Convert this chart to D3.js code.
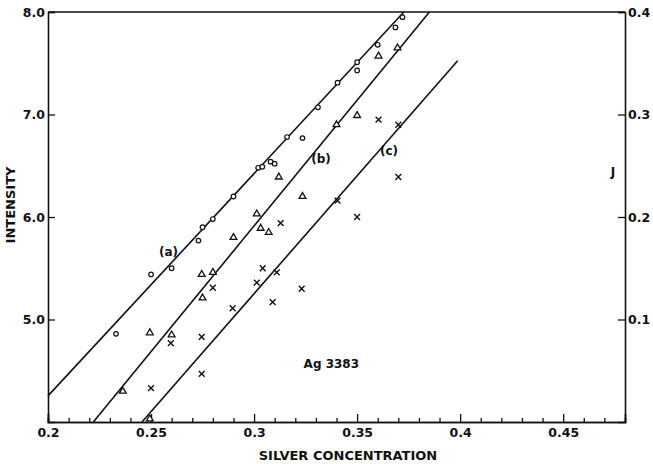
<!DOCTYPE html>
<html>
<head>
<meta charset="utf-8">
<script src="https://cdn.jsdelivr.net/npm/d3@7"></script>
<style>
  body { margin: 0; background: #fff; }
  svg text { font-family: "DejaVu Sans", sans-serif; font-weight: bold; fill: #111; }
</style>
</head>
<body>
<div id="app"></div>
<script>
// silver concentration vs intensity, three series
const circlesX = [0.233, 0.250, 0.260, 0.273, 0.275, 0.280, 0.290, 0.302, 0.304, 0.308, 0.310, 0.316, 0.3235, 0.331, 0.3405, 0.350, 0.350, 0.360, 0.3686, 0.372];
const circlesY = [4.86, 5.44, 5.50, 5.77, 5.90, 5.98, 6.20, 6.48, 6.49, 6.54, 6.52, 6.78, 6.77, 7.07, 7.31, 7.51, 7.43, 7.68, 7.85, 7.95];

const trianglesX = [0.2363, 0.2494, 0.260, 0.2494, 0.2746, 0.280, 0.275, 0.290, 0.3013, 0.3032, 0.3071, 0.312, 0.3235, 0.340, 0.350, 0.3604, 0.3696];
const trianglesY = [4.30, 4.87, 4.85, 4.03, 5.44, 5.46, 5.21, 5.80, 6.03, 5.89, 5.85, 6.39, 6.20, 6.90, 6.99, 7.57, 7.65];

const crossesX = [0.250, 0.2596, 0.2746, 0.2746, 0.280, 0.2896, 0.3013, 0.3042, 0.309, 0.311, 0.3129, 0.3231, 0.3405, 0.350, 0.3604, 0.370, 0.370];
const crossesY = [4.33, 4.77, 4.83, 4.47, 5.31, 5.11, 5.36, 5.50, 5.17, 5.46, 5.94, 5.30, 6.16, 6.00, 6.95, 6.90, 6.39];

// fitted straight lines (start, end)
const lineA = [[0.2, 4.255], [0.3727, 8.0]];
const lineB = [[0.222, 4.0], [0.3851, 8.0]];
const lineC = [[0.2456, 4.0], [0.3988, 7.525]];

const xMajorTicks = [0.2, 0.25, 0.3, 0.35, 0.4, 0.45];
const xTickLabels = ["0.2", "0.25", "0.3", "0.35", "0.4", "0.45"];
const xMinorTicks = [0.21, 0.22, 0.23, 0.24, 0.26, 0.27, 0.28, 0.29, 0.31, 0.32, 0.33, 0.34, 0.36, 0.37, 0.38, 0.39, 0.41, 0.42, 0.43, 0.44, 0.46, 0.47];
const yTicks = [5, 6, 7, 8];
const yTickLabels = ["5.0", "6.0", "7.0", "8.0"];
const jTicks = [0.1, 0.2, 0.3, 0.4];
const jTickLabels = ["0.1", "0.2", "0.3", "0.4"];

const width = 653, height = 464;
const margin = { top: 12, right: 28, bottom: 42, left: 48 };
const innerW = width - margin.left - margin.right;
const innerH = height - margin.top - margin.bottom;

const svg = d3.select('#app').append('svg')
    .attr('width', width).attr('height', height);
const g = svg.append('g')
    .attr('transform', `translate(${margin.left},${margin.top})`);

const x = d3.scaleLinear().domain([0.2, 0.48]).range([0, innerW]);
const y = d3.scaleLinear().domain([4, 8]).range([innerH, 0]);
const j = d3.scaleLinear().domain([0, 0.4]).range([innerH, 0]);

// frame top line
g.append('line').attr('x1', 0).attr('x2', innerW).attr('y1', 0).attr('y2', 0)
    .attr('stroke', '#111').attr('stroke-width', 1.6);

const styleAxis = sel => {
    sel.select('.domain').attr('stroke', '#111').attr('stroke-width', 1.6);
    sel.selectAll('.tick line').attr('stroke', '#111').attr('stroke-width', 1.3);
    sel.selectAll('text').attr('font-size', 12.5).attr('font-family', null);
};

g.append('g').attr('transform', `translate(0,${innerH})`)
    .call(d3.axisBottom(x).tickValues(xMinorTicks).tickSize(-4).tickFormat(''))
    .call(styleAxis);
g.append('g').attr('transform', `translate(0,${innerH})`)
    .call(d3.axisBottom(x).tickValues(xMajorTicks).tickSize(-8).tickPadding(6)
        .tickFormat((d, i) => xTickLabels[i]))
    .call(styleAxis);

g.append('g')
    .call(d3.axisLeft(y).tickValues(yTicks).tickSize(-7).tickPadding(3)
        .tickFormat((d, i) => yTickLabels[i]))
    .call(styleAxis);

g.append('g').attr('transform', `translate(${innerW},0)`)
    .call(d3.axisRight(j).tickValues(jTicks).tickSize(-7).tickPadding(3)
        .tickFormat((d, i) => jTickLabels[i]))
    .call(styleAxis);

// fit lines
const line = d3.line().x(d => x(d[0])).y(d => y(d[1]));
g.selectAll('path.fit').data([lineA, lineB, lineC]).join('path')
    .attr('class', 'fit')
    .attr('fill', 'none').attr('stroke', '#111').attr('stroke-width', 1.6)
    .attr('d', line);

// markers
g.selectAll('circle.pt').data(d3.zip(circlesX, circlesY)).join('circle')
    .attr('class', 'pt')
    .attr('cx', d => x(d[0])).attr('cy', d => y(d[1])).attr('r', 2.3)
    .attr('fill', '#fff').attr('stroke', '#111').attr('stroke-width', 1.2);

const tri = d3.symbol().type(d3.symbolTriangle).size(20);
g.selectAll('path.tri').data(d3.zip(trianglesX, trianglesY)).join('path')
    .attr('class', 'tri')
    .attr('transform', d => `translate(${x(d[0])},${y(d[1])})`)
    .attr('d', tri)
    .attr('fill', '#fff').attr('stroke', '#111').attr('stroke-width', 1.3);

const cross = d3.symbol().type(d3.symbolX).size(24);
g.selectAll('path.cross').data(d3.zip(crossesX, crossesY)).join('path')
    .attr('class', 'cross')
    .attr('transform', d => `translate(${x(d[0])},${y(d[1])})`)
    .attr('d', cross)
    .attr('fill', 'none').attr('stroke', '#111').attr('stroke-width', 1.4);

// annotations
const notes = [
    { t: '(a)', px: 0.2585, py: 5.66 },
    { t: '(b)', px: 0.3325, py: 6.57 },
    { t: '(c)', px: 0.3655, py: 6.65 },
    { t: 'Ag 3383', px: 0.3375, py: 4.57 }
];
g.selectAll('text.note').data(notes).join('text')
    .attr('class', 'note')
    .attr('x', d => x(d.px)).attr('y', d => y(d.py))
    .attr('text-anchor', 'middle').attr('dy', '0.35em')
    .attr('font-size', 12)
    .text(d => d.t);

g.append('text').attr('x', innerW - 12).attr('y', j(0.244)).attr('dy', '0.35em')
    .attr('text-anchor', 'middle').attr('font-size', 12).text('J');

// axis titles
svg.append('text')
    .attr('x', 348).attr('y', 455).attr('dy', '0.35em')
    .attr('text-anchor', 'middle').attr('font-size', 13)
    .text('SILVER CONCENTRATION');
svg.append('text')
    .attr('transform', 'translate(10,205) rotate(-90)')
    .attr('dy', '0.35em')
    .attr('text-anchor', 'middle').attr('font-size', 13)
    .text('INTENSITY');
</script>
</body>
</html>
